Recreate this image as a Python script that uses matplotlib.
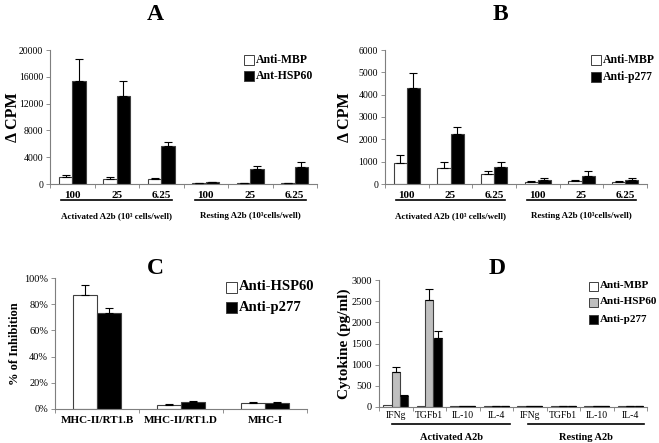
import numpy as np
import matplotlib
matplotlib.use("Agg")
import matplotlib.pyplot as plt
from matplotlib.patches import Rectangle

plt.rcParams['font.family'] = ['Liberation Serif', 'DejaVu Serif']

# panel A / B data
ab_cats = ["100", "25", "6.25", "100", "25", "6.25"]
a_mbp = [1000, 800, 700, 100, 150, 100]
a_mbp_err = [400, 300, 250, 30, 30, 30]
a_hsp = [15400, 13200, 5700, 250, 2300, 2600]
a_hsp_err = [3300, 2100, 500, 80, 450, 700]

b_mbp = [950, 730, 450, 100, 130, 100]
b_mbp_err = [350, 270, 150, 20, 40, 20]
b_p277 = [4300, 2250, 760, 180, 360, 180]
b_p277_err = [650, 320, 240, 80, 240, 70]

# panel C data
c_cats = ["MHC-II/RT1.B", "MHC-II/RT1.D", "MHC-I"]
c_hsp = [87, 3, 4.5]
c_hsp_err = [8, 0.8, 0.8]
c_p277 = [73, 5, 4.5]
c_p277_err = [4, 1, 1]

# panel D data
d_cats = ["IFNg", "TGFb1", "IL-10", "IL-4", "IFNg", "TGFb1", "IL-10", "IL-4"]
d_mbp = [40, 12, 12, 12, 12, 12, 12, 12]
d_hsp = [820, 2520, 12, 12, 12, 12, 12, 12]
d_hsp_err = [130, 260, 0, 0, 0, 0, 0, 0]
d_p277 = [260, 1630, 12, 12, 12, 12, 12, 12]
d_p277_err = [25, 170, 0, 0, 0, 0, 0, 0]

W, H = 659, 443
fig = plt.figure(figsize=(W / 100, H / 100), dpi=100)


def make_ax(left, top, right, bottom):
    return fig.add_axes([left / W, (H - bottom) / H, (right - left) / W, (bottom - top) / H])


def style_ax(ax, n, cats, bold_ticks=True, fs=8):
    for s in ["top", "right"]:
        ax.spines[s].set_visible(False)
    for s in ["left", "bottom"]:
        ax.spines[s].set_color("#7f7f7f")
        ax.spines[s].set_linewidth(0.8)
    ax.set_xlim(-0.5, n - 0.5)
    ax.set_xticks(np.arange(n + 1) - 0.5)
    ax.set_xticklabels([])
    ax.set_xticks(np.arange(n), minor=True)
    ax.set_xticklabels(cats, minor=True, fontsize=fs,
                       fontweight="bold" if bold_ticks else "normal")
    ax.tick_params(axis="x", which="major", length=3, color="#7f7f7f", width=0.6)
    ax.tick_params(axis="x", which="minor", length=0, pad=5)
    ax.tick_params(axis="y", length=3, color="#7f7f7f", width=0.6, labelsize=7.5, pad=2)


def ylabel_at(ax, text, px, fs):
    # px = figure pixel x of the label's right edge
    ax.set_ylabel(text, fontsize=fs, fontweight="bold")
    pos = ax.get_position()
    ax.yaxis.set_label_coords((px / W - pos.x0) / pos.width, 0.5)


def bars(ax, x, vals, err, color, width, show_err=True):
    ax.bar(x, vals, width, color=color, edgecolor="#404040", linewidth=0.8, zorder=2)
    if show_err and err is not None:
        ax.errorbar(x, vals, yerr=[np.zeros(len(vals)), err], fmt="none",
                    ecolor="black", elinewidth=0.8, capsize=3, capthick=0.8, zorder=3)


def groups(ax, spans, labels, ly, ty, fs):
    tr = ax.get_xaxis_transform()
    for (x0, x1), lab in zip(spans, labels):
        ax.plot([x0, x1], [ly, ly], color="black", lw=1.2, transform=tr, clip_on=False)
        ax.text((x0 + x1) / 2, ty, lab, transform=tr, ha="center", va="center",
                fontsize=fs, fontweight="bold")


def legend_boxes(names, colors, bx, ys, box, fs):
    # bx, ys in figure pixels (from top-left)
    for nm, c, y in zip(names, colors, ys):
        fig.add_artist(Rectangle((bx / W, (H - y - box / 2) / H), box / W, box / H,
                                 facecolor=c, edgecolor="#404040", linewidth=0.7,
                                 transform=fig.transFigure))
        fig.text((bx + box + 2) / W, 1 - y / H, nm, fontsize=fs, fontweight="bold",
                 va="center", ha="left")


x6 = np.arange(6)
bw = 0.3

# ---- A
axA = make_ax(50, 50, 317, 184)
style_ax(axA, 6, ab_cats, fs=8)
axA.tick_params(axis="y", labelsize=7)
bars(axA, x6 - bw / 2, a_mbp, a_mbp_err, "white", bw)
bars(axA, x6 + bw / 2, a_hsp, a_hsp_err, "black", bw)
axA.set_ylim(0, 20000)
axA.set_yticks(range(0, 20001, 4000))
ylabel_at(axA, "\u0394 CPM", 21, 11.5)
groups(axA, [(-0.25, 2.25), (2.75, 5.25)],
       ["Activated A2b (10\u00b3 cells/well)", "Resting A2b (10\u00b3cells/well)"],
       -0.12, -0.24, 6.5)
legend_boxes(["Anti-MBP", "Ant-HSP60"], ["white", "black"], 244, [60, 76], 10, 8.5)
fig.text(155 / W, 1 - 15 / H, "A", fontsize=17, fontweight="bold", ha="center", va="center")

# ---- B
axB = make_ax(385, 50, 647, 184)
style_ax(axB, 6, ab_cats, fs=8)
axB.tick_params(axis="y", labelsize=7)
bars(axB, x6 - bw / 2, b_mbp, b_mbp_err, "white", bw)
bars(axB, x6 + bw / 2, b_p277, b_p277_err, "black", bw)
axB.set_ylim(0, 6000)
axB.set_yticks(range(0, 6001, 1000))
ylabel_at(axB, "\u0394 CPM", 353, 11.5)
groups(axB, [(-0.25, 2.25), (2.75, 5.25)],
       ["Activated A2b (10\u00b3 cells/well)", "Resting A2b (10\u00b3cells/well)"],
       -0.12, -0.24, 6.5)
legend_boxes(["Anti-MBP", "Anti-p277"], ["white", "black"], 591, [60, 77], 10, 8.5)
fig.text(500 / W, 1 - 15 / H, "B", fontsize=17, fontweight="bold", ha="center", va="center")

# ---- C
x3 = np.arange(3)
cw = 0.29
axC = make_ax(55, 278, 307, 409)
style_ax(axC, 3, c_cats, fs=8)
bars(axC, x3 - cw / 2, c_hsp, c_hsp_err, "white", cw)
bars(axC, x3 + cw / 2, c_p277, c_p277_err, "black", cw)
axC.set_ylim(0, 100)
axC.set_yticks(range(0, 101, 20))
axC.set_yticklabels([f"{v}%" for v in range(0, 101, 20)])
ylabel_at(axC, "% of Inhibition", 21, 9)
legend_boxes(["Anti-HSP60", "Anti-p277"], ["white", "black"], 226, [287, 307], 11, 10.5)
fig.text(155 / W, 1 - 268 / H, "C", fontsize=17, fontweight="bold", ha="center", va="center")

# ---- D
x8 = np.arange(8)
dw = 0.25
axD = make_ax(379, 280, 647, 407)
style_ax(axD, 8, d_cats, bold_ticks=False, fs=7)
axD.tick_params(axis="x", which="minor", pad=3)
bars(axD, x8 - dw, d_mbp, None, "white", dw, show_err=False)
bars(axD, x8, d_hsp, d_hsp_err, "#bfbfbf", dw)
bars(axD, x8 + dw, d_p277, d_p277_err, "black", dw)
axD.set_ylim(0, 3000)
axD.set_yticks(range(0, 3001, 500))
ylabel_at(axD, "Cytokine (pg/ml)", 351, 11)
groups(axD, [(-0.1, 3.4), (3.95, 7.4)], ["Activated A2b", "Resting A2b"],
       -0.135, -0.24, 7.5)
legend_boxes(["Anti-MBP", "Anti-HSP60", "Anti-p277"], ["white", "#bfbfbf", "black"],
             589, [286, 302, 319], 9, 8)
fig.text(497 / W, 1 - 268 / H, "D", fontsize=17, fontweight="bold", ha="center", va="center")

fig.savefig("out.png", dpi=100)
